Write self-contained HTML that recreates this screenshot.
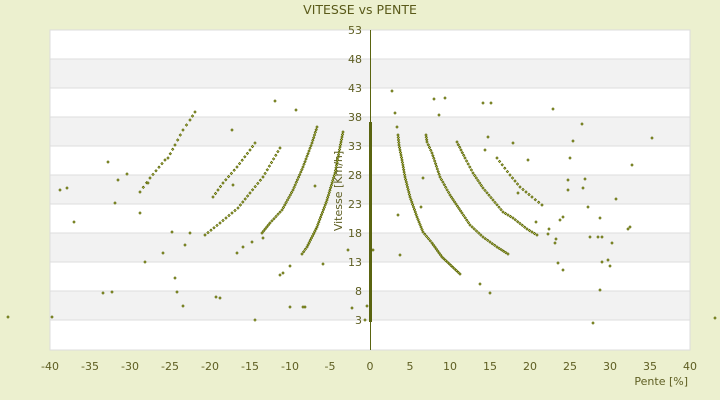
<!DOCTYPE html><html><head><meta charset="utf-8"><style>
body{margin:0;background:#ecf0cf;}
svg{display:block;font-family:"DejaVu Sans","Liberation Sans",sans-serif;}
</style></head><body>
<svg id="s" width="720" height="400" xmlns="http://www.w3.org/2000/svg">
<rect width="720" height="400" fill="#ecf0cf"/>
<rect x="50" y="30" width="640" height="320" fill="#fff" stroke="#ddd"/>
<g fill="#f2f2f2" stroke="#ddd">
<rect x="50" y="59" width="640" height="29"/><rect x="50" y="117" width="640" height="29"/>
<rect x="50" y="175" width="640" height="29"/><rect x="50" y="233" width="640" height="29"/>
<rect x="50" y="291" width="640" height="29"/>
</g>
<text x="360" y="14" font-size="12.5" fill="#5a5a1a" text-anchor="middle">VITESSE vs PENTE</text>
<g font-size="11" fill="#5e5e22" text-anchor="middle">
<text x="50" y="370">-40</text><text x="90" y="370">-35</text><text x="130" y="370">-30</text><text x="170" y="370">-25</text>
<text x="210" y="370">-20</text><text x="250" y="370">-15</text><text x="290" y="370">-10</text><text x="330" y="370">-5</text>
<text x="370" y="370">0</text><text x="410" y="370">5</text><text x="450" y="370">10</text><text x="490" y="370">15</text>
<text x="530" y="370">20</text><text x="570" y="370">25</text><text x="610" y="370">30</text><text x="650" y="370">35</text><text x="690" y="370">40</text>
</g>
<g font-size="11" fill="#5e5e22" text-anchor="end">
<text x="362" y="34">53</text><text x="362" y="63">48</text><text x="362" y="92">43</text><text x="362" y="121">38</text>
<text x="362" y="150">33</text><text x="362" y="179">28</text><text x="362" y="208">23</text><text x="362" y="237">18</text>
<text x="362" y="266">13</text><text x="362" y="295">8</text><text x="362" y="324">3</text>
</g>
<text x="688" y="385" font-size="11" fill="#5e5e22" text-anchor="end">Pente [%]</text>
<text transform="translate(342,191) rotate(-90)" font-size="11" fill="#5e5e22" text-anchor="middle">Vitesse [Km/h]</text>
<line x1="370.5" y1="30" x2="370.5" y2="350" stroke="#5a6410" stroke-width="1"/>
<rect x="369" y="122" width="3" height="200" fill="#5a6410"/>
<g id="pts"></g>
</svg>
<script>
var curves=[
[[398,135],[399,145],[402,160],[405,177],[410,197],[417,217],[423,232],[432,243],[442,257],[460,274]],
[[426,135],[427,142],[432,153],[440,177],[450,195],[462,213],[470,225],[483,237],[497,247],[508,254]],
[[457,142],[465,158],[473,173],[483,188],[493,200],[503,212],[513,218],[527,229],[537,235]],
[[497,158],[510,175],[520,187],[532,197],[542,205]],
[[343,132],[340,147],[335,173],[327,200],[317,227],[307,247],[302,254]],
[[317,127],[312,143],[303,167],[293,190],[282,210],[270,223],[262,233]],
[[280,148],[263,177],[250,193],[238,208],[220,223],[205,235]],
[[255,143],[250,150],[237,167],[223,183],[213,197]],
[[195,112],[190,120],[183,130],[175,145],[168,158]],
[[165,160],[150,178],[140,192]]
];
var sp=[2.6,2.8,3.2,4,2.6,2.8,4,4.5,5,5];
var extra=[[8,317],[52,317],[60,190],[67,188],[74,222],[103,293],[112,292],[108,162],[118,180],[115,203],[127,174],[140,213],[148,183],[145,262],[163,253],[172,232],[175,278],[177,292],[183,306],[232,130],[233,185],[255,320],[263,238],[275,101],[280,275],[283,273],[290,266],[290,307],[305,307],[296,110],[303,307],[315,186],[323,264],[348,250],[352,308],[252,242],[243,247],[237,253],[220,298],[216,297],[185,245],[190,233],
[392,91],[395,113],[397,127],[400,255],[398,215],[434,99],[439,115],[445,98],[423,178],[421,207],[483,103],[491,103],[488,137],[485,150],[513,143],[518,193],[528,160],[536,222],[548,234],[558,263],[553,109],[568,180],[568,190],[560,220],[563,217],[563,270],[555,243],[570,158],[573,141],[582,124],[585,179],[583,188],[588,207],[590,237],[598,237],[600,218],[602,237],[600,290],[602,262],[608,260],[610,266],[612,243],[616,199],[628,229],[630,227],[632,165],[652,138],[715,318],[480,284],[490,293],[593,323],[549,229],[556,239],[367,306],[373,250],[365,320]];
var pts=[];
curves.forEach(function(c,ci){var s=sp[ci];for(var i=0;i<c.length-1;i++){var a=c[i],b=c[i+1],d=Math.hypot(b[0]-a[0],b[1]-a[1]),n=Math.max(1,Math.round(d/s));for(var k=0;k<n;k++){var t=k/n;pts.push([a[0]+(b[0]-a[0])*t,a[1]+(b[1]-a[1])*t]);}}pts.push(c[c.length-1]);});
pts=pts.concat(extra);
var h='';pts.forEach(function(p){var x=p[0].toFixed(1),y=p[1].toFixed(1);h+='<path d="M'+x+' '+(y-1.2)+'l1.2 1.2l-1.2 1.2l-1.2 -1.2z" fill="#d4da70" stroke="#566200" stroke-width="0.7"/>';});
document.getElementById('pts').innerHTML=h;
</script>
</body></html>
